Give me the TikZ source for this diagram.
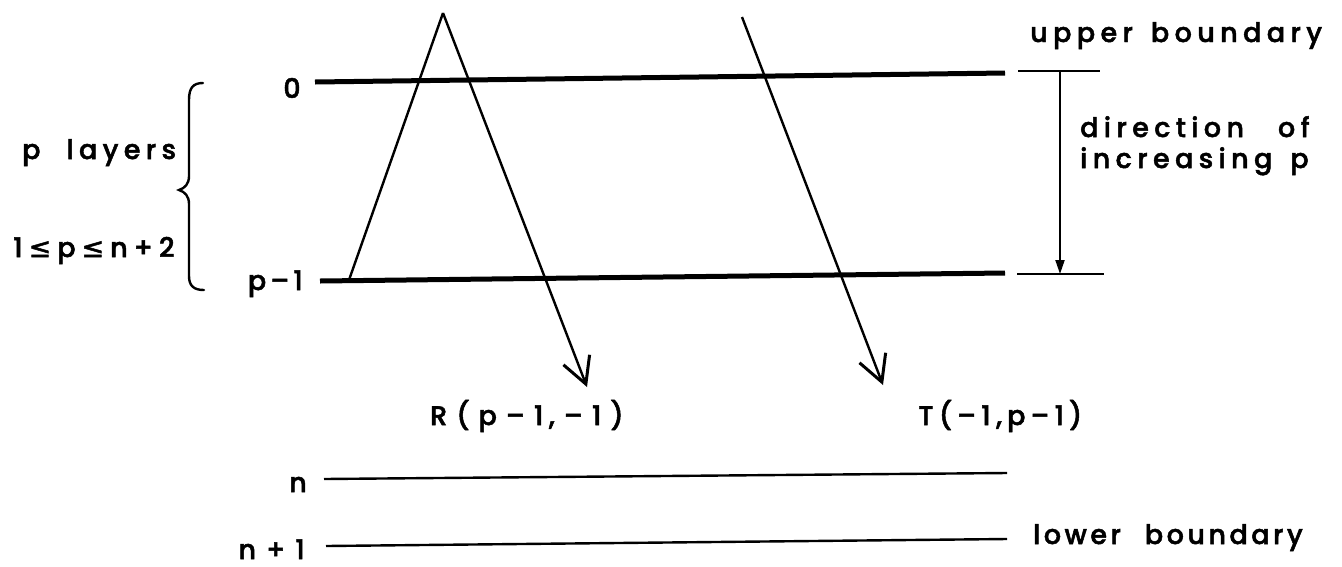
\documentclass[tikz,border=0pt]{standalone}
\usepackage{fontspec}
\newfontfamily\lblfont{Poppins}[UprightFont=* Medium, LetterSpace=20, FakeBold=1.8]
\newfontfamily\lblfontn{Poppins}[UprightFont=* Medium, LetterSpace=13, FakeBold=1.8]
\newfontfamily\symfont{DejaVu Sans}[FakeBold=1.8]
\usetikzlibrary{arrows.meta}
\newcommand{\gp}[1][5pt]{\hspace{#1}}
\begin{document}
\begin{tikzpicture}[x=1pt,y=-1pt,
  lbl/.style={font=\lblfont\fontsize{27}{30}\selectfont, inner sep=0pt},
  lbln/.style={font=\lblfontn\fontsize{27}{30}\selectfont, inner sep=0pt},
  heavyline/.style={line width=5pt},
  lightline/.style={line width=2.4pt},
  ray/.style={line width=2.4pt, -{Straight Barb[length=26pt,width=28pt,line width=3pt]}},
  dirarrow/.style={line width=2pt, -{Triangle[length=14pt,width=9pt]}},
 ]
\useasboundingbox (0,0) rectangle (1342,566);
% layer lines
\coordinate (L0w) at (315,82);  \coordinate (L0e) at (1005,73);
\coordinate (Lpw) at (320,281); \coordinate (Lpe) at (1005,273);
\coordinate (Lnw) at (324,479); \coordinate (Lne) at (1007,473);
\coordinate (Lmw) at (326,546); \coordinate (Lme) at (1007,539);
\draw[heavyline] (L0w) -- (L0e);
\draw[heavyline] (Lpw) -- (Lpe);
\draw[lightline] (Lnw) -- (Lne);
\draw[lightline] (Lmw) -- (Lme);
% triangle and rays
\coordinate (apex) at (443,13);
\coordinate (foot) at (349,280);
\coordinate (Rtip) at (587,387);
\coordinate (Tstart) at (742,17);
\coordinate (Ttip) at (883,385);
\draw[lightline, line join=miter] (foot) -- (apex);
\draw[ray] (apex) -- (Rtip);
\draw[ray] (Tstart) -- (Ttip);
% right markers
\coordinate (Ua) at (1018,71); \coordinate (Ub) at (1100,71);
\coordinate (Da) at (1017,274); \coordinate (Db) at (1104,274);
\coordinate (Vtop) at (1060,71); \coordinate (Vbot) at (1060,274);
\draw[lightline] (Ua) -- (Ub);
\draw[lightline] (Da) -- (Db);
\draw[dirarrow] (Vtop) -- (Vbot);
% brace
\coordinate (Bt) at (203,83); \coordinate (Bm) at (179,190); \coordinate (Bb) at (204,290);
\draw[line width=2.4pt, line cap=round]
  (Bt) .. controls (193,83) and (189,88) .. (189,100)
  -- (189,176) .. controls (189,184) and (185,188) .. (Bm)
  .. controls (185,192) and (189,196) .. (189,204)
  -- (189,276) .. controls (189,286) and (194,290) .. (Bb);
% labels
\node[lbl, anchor=base west] (ub) at (1030,42) {upper\hspace{18pt}boundary};
\node[lbl, anchor=base west] (dir1) at (1080,137) {direction\hspace{34pt}of};
\node[lbl, anchor=base west] (dir2) at (1080,168) {increasing\hspace{18pt}p};
\node[lbln, anchor=base west] (lb) at (1033,544) {lower\hspace{24pt}boundary};
\node[lbl, anchor=base] (l0) at (292,98) {0};
\node[lbl, anchor=base east] (lp) at (303,290) {p\gp[4pt]–\gp[4pt]1};
\node[lbl, anchor=base] (ln) at (298,492) {n};
\node[lbl, anchor=base east] (lm) at (305,559) {n\gp[10pt]+\gp[10pt]1};
\node[lbl, anchor=base west] (pl) at (22,159) {p\hspace{26pt}layers};
\node[lbl, anchor=base west] (rng) at (13,257) {1\gp[6pt]{\symfont ≤}\gp[6pt]p\gp[6pt]{\symfont ≤}\gp[6pt]n\gp[6pt]+\gp[6pt]2};
\node[lbl, anchor=base west] (R) at (430,425) {R\gp[9pt](\gp[9pt]p\gp[9pt]–\gp[9pt]1,\gp[9pt]–\gp[9pt]1\gp[9pt])};
\node[lbl, anchor=base west] (T) at (918,425) {T(\gp[5pt]–\gp[5pt]1,\gp[5pt]p\gp[5pt]–\gp[5pt]1\gp[5pt])};
\end{tikzpicture}
\end{document}
